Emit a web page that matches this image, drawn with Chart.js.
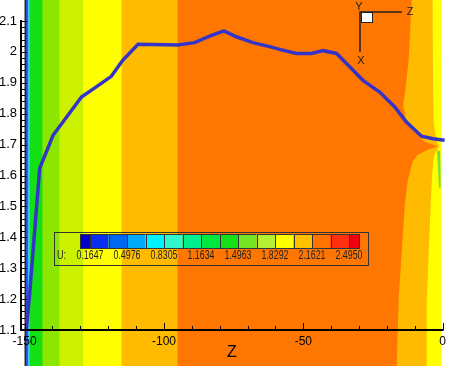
<!DOCTYPE html>
<html>
<head>
<meta charset="utf-8">
<script src="https://cdn.jsdelivr.net/npm/chart.js@4"></script>
<style>
  body { margin: 0; background: #fff; }
  #wrap { width: 450px; height: 366px; }
</style>
</head>
<body>
<div id="wrap"><canvas id="myChart" width="450" height="366"></canvas></div>
<script>
// blue path: Z and X values
const pathZ = [-149.4, -148.2, -144.6, -139.8, -129.6, -124.3, -118.9, -114.8, -109.3, -95.0, -89.0, -83.6, -78.5, -74.0, -68.1, -62.1, -58.5, -52.5, -47.1, -42.9, -38.1, -34.6, -28.6, -22.6, -17.2, -13.0, -7.6, -3.5, 0.7];
const pathX = [1.10, 1.217, 1.623, 1.730, 1.854, 1.887, 1.921, 1.973, 2.025, 2.022, 2.030, 2.051, 2.068, 2.049, 2.030, 2.017, 2.008, 1.995, 1.995, 2.004, 1.995, 1.963, 1.908, 1.870, 1.822, 1.773, 1.727, 1.719, 1.714];

const xTicks = [-150, -100, -50, 0];
const yTicks = [1.1, 1.2, 1.3, 1.4, 1.5, 1.6, 1.7, 1.8, 1.9, 2.0, 2.1];

// contour legend levels (U)
const uLevels = [0.1647, 0.4976, 0.8305, 1.1634, 1.4963, 1.8292, 2.1621, 2.4950];

// contour bands: straight edges on the left side (Z)
const bandEdges = [-150, -149.4, -148.8, -148.1, -143.6, -137.5, -129.0, -115.2, -95.5];
// curved edges near Z = 0, given at these X levels
const edgeX = [2.17, 1.974, 1.861, 1.828, 1.774, 1.742, 1.709, 1.695, 1.683, 1.666, 1.645, 1.580, 1.505, 1.197, 0.98];
const orangeEdgeZ = [-11.1, -12.2, -13.6, -14.2, -13.0, -10.1, -6.5, -1.8, -5.4, -9.0, -10.8, -12.6, -13.6, -15.8, -16.5];
const yellowEdgeZ = [-3.6, -3.5, -3.4, -3.3, -3.2, -2.8, -2.0, -1.2, -2.0, -3.0, -3.4, -3.9, -4.3, -5.7, -5.7];
const domainEnd = -0.4;
// small green streak at the tip
const streakZ = [-2.0, -0.9, -0.7, -1.3];
const streakX = [1.680, 1.680, 1.560, 1.560];

const bandColors = ['#0a14b4', '#1e5cff', '#38c4ff', '#14e014', '#8ce600', '#cdf200', '#ffff00', '#ffbb00'];
const legendColors = ['#0000c8', '#0a2ef0', '#0068f0', '#00aaf8', '#00f4ff', '#30f8cc', '#00f090', '#00e840',
  '#18e018', '#74e424', '#b4f034', '#ffff00', '#ffc000', '#ff7400', '#ff3010', '#ee0010'];

const contour = {
  id: 'contour',
  beforeDraw(chart) {
    const { ctx, scales: { x, y } } = chart;
    const h = chart.height;
    const px = v => x.getPixelForValue(v);
    const py = v => y.getPixelForValue(v);
    const fillToEdge = (fromZ, edgeZ, color) => {
      ctx.beginPath();
      ctx.moveTo(px(fromZ), py(edgeX[0]));
      edgeX.forEach((v, i) => ctx.lineTo(px(edgeZ[i]), py(v)));
      ctx.lineTo(px(fromZ), py(edgeX[edgeX.length - 1]));
      ctx.closePath();
      ctx.fillStyle = color;
      ctx.fill();
    };
    ctx.save();
    ctx.fillStyle = '#ffff00';
    ctx.fillRect(px(-150), 0, px(domainEnd) - px(-150), h);
    fillToEdge(-150, yellowEdgeZ, '#ffbb00');
    fillToEdge(-95.5, orangeEdgeZ, '#ff7700');
    for (let i = 0; i < bandEdges.length - 1; i++) {
      ctx.fillStyle = bandColors[i];
      ctx.fillRect(px(bandEdges[i]), 0, px(bandEdges[i + 1]) - px(bandEdges[i]) + 0.5, h);
    }
    ctx.fillStyle = '#ffbb00';
    ctx.fillRect(px(bandEdges[bandEdges.length - 1]) - 1, 0, 2, h);
    ctx.beginPath();
    streakZ.forEach((z, i) => i ? ctx.lineTo(px(z), py(streakX[i])) : ctx.moveTo(px(z), py(streakX[i])));
    ctx.closePath();
    ctx.fillStyle = '#70e040';
    ctx.fill();
    ctx.restore();
  },
  afterDraw(chart) {
    const { ctx, chartArea: a, scales: { x, y } } = chart;
    const top = y.getPixelForValue(2.1);
    const right = x.getPixelForValue(0);
    ctx.save();
    ctx.strokeStyle = '#000000';
    ctx.fillStyle = '#000000';
    // axes
    ctx.fillRect(a.left - 1, top - 1, 2, a.bottom - top + 2);
    ctx.fillRect(a.left - 1, a.bottom - 1, right - a.left + 2, 2);
    ctx.lineWidth = 1;
    ctx.beginPath();
    for (let i = 0; i <= 50; i++) {
      const yy = Math.round(y.getPixelForValue(1.1 + i * 0.02)) + 0.5;
      ctx.moveTo(a.left, yy);
      ctx.lineTo(a.left + (i % 5 === 0 ? 6 : 4), yy);
    }
    for (let i = 0; i <= 15; i++) {
      const xx = Math.round(x.getPixelForValue(-150 + i * 10)) + 0.5;
      ctx.moveTo(xx, a.bottom);
      ctx.lineTo(xx, a.bottom - (i % 5 === 0 ? 7 : 4));
    }
    ctx.stroke();

    // colour legend
    ctx.strokeStyle = '#333';
    ctx.strokeRect(54.5, 232.5, 314, 33);
    for (let i = 0; i < legendColors.length; i++) {
      const l = i === 0 ? 80 : 90 + (i - 1) * 18.5;
      const r = i === legendColors.length - 1 ? 359 : 90 + i * 18.5;
      ctx.fillStyle = legendColors[i];
      ctx.fillRect(l, 234, r - l, 14);
      ctx.strokeRect(Math.round(l) + 0.5, 234.5, Math.round(r - l), 14);
    }
    ctx.fillStyle = '#222';
    ctx.font = '12px "Liberation Sans", Arial, sans-serif';
    ctx.textBaseline = 'middle';
    ctx.textAlign = 'left';
    ctx.fillText('U:', 57, 256, 9);
    ctx.textAlign = 'center';
    uLevels.forEach((u, k) => ctx.fillText(u.toFixed(4), 90 + 2 * k * 18.5, 256, 27));

    // axis triad
    ctx.fillStyle = '#fff';
    ctx.fillRect(361, 13, 12, 10);
    ctx.strokeStyle = '#222';
    ctx.strokeRect(361.5, 12.5, 11, 10);
    ctx.lineWidth = 1.5;
    ctx.beginPath();
    ctx.moveTo(402, 12);
    ctx.lineTo(360, 12);
    ctx.lineTo(360, 52);
    ctx.stroke();
    ctx.fillStyle = '#222';
    ctx.font = '11px "Liberation Sans", Arial, sans-serif';
    ctx.fillText('Y', 359, 7);
    ctx.fillText('Z', 410, 12);
    ctx.fillText('X', 361, 61);
    ctx.restore();
  }
};

const ctx = document.getElementById('myChart');

new Chart(ctx, {
  type: 'line',
  data: {
    datasets: [{
      data: pathZ.map((z, i) => ({ x: z, y: pathX[i] })),
      borderColor: '#3434c8',
      borderWidth: 3.5,
      pointRadius: 0,
      tension: 0,
      clip: false
    }]
  },
  options: {
    responsive: false,
    animation: false,
    layout: { padding: { top: 21, right: 7, bottom: 0, left: 0 } },
    plugins: { legend: { display: false }, tooltip: { enabled: false } },
    scales: {
      x: {
        type: 'linear',
        min: -151.3,
        max: 0,
        afterBuildTicks: s => { s.ticks = xTicks.map(v => ({ value: v })); },
        afterFit: s => { s.height = 36; },
        grid: { display: false, drawTicks: false },
        border: { display: false },
        ticks: { color: '#000', font: { size: 12, family: '"Liberation Sans", Arial' }, padding: 4, maxRotation: 0, autoSkip: false },
        title: { display: true, text: 'Z', color: '#000', font: { size: 16, family: '"Liberation Sans", Arial' }, padding: { top: 0, bottom: 4 } }
      },
      y: {
        type: 'linear',
        min: 1.1,
        max: 2.1,
        afterBuildTicks: s => { s.ticks = yTicks.map(v => ({ value: v })); },
        afterFit: s => { s.width = 21; },
        grid: { display: false, drawTicks: false },
        border: { display: false },
        ticks: { color: '#000', font: { size: 13, family: '"Liberation Sans", Arial' }, padding: 4, callback: v => String(+v.toFixed(1)) }
      }
    }
  },
  plugins: [contour]
});
</script>
</body>
</html>
